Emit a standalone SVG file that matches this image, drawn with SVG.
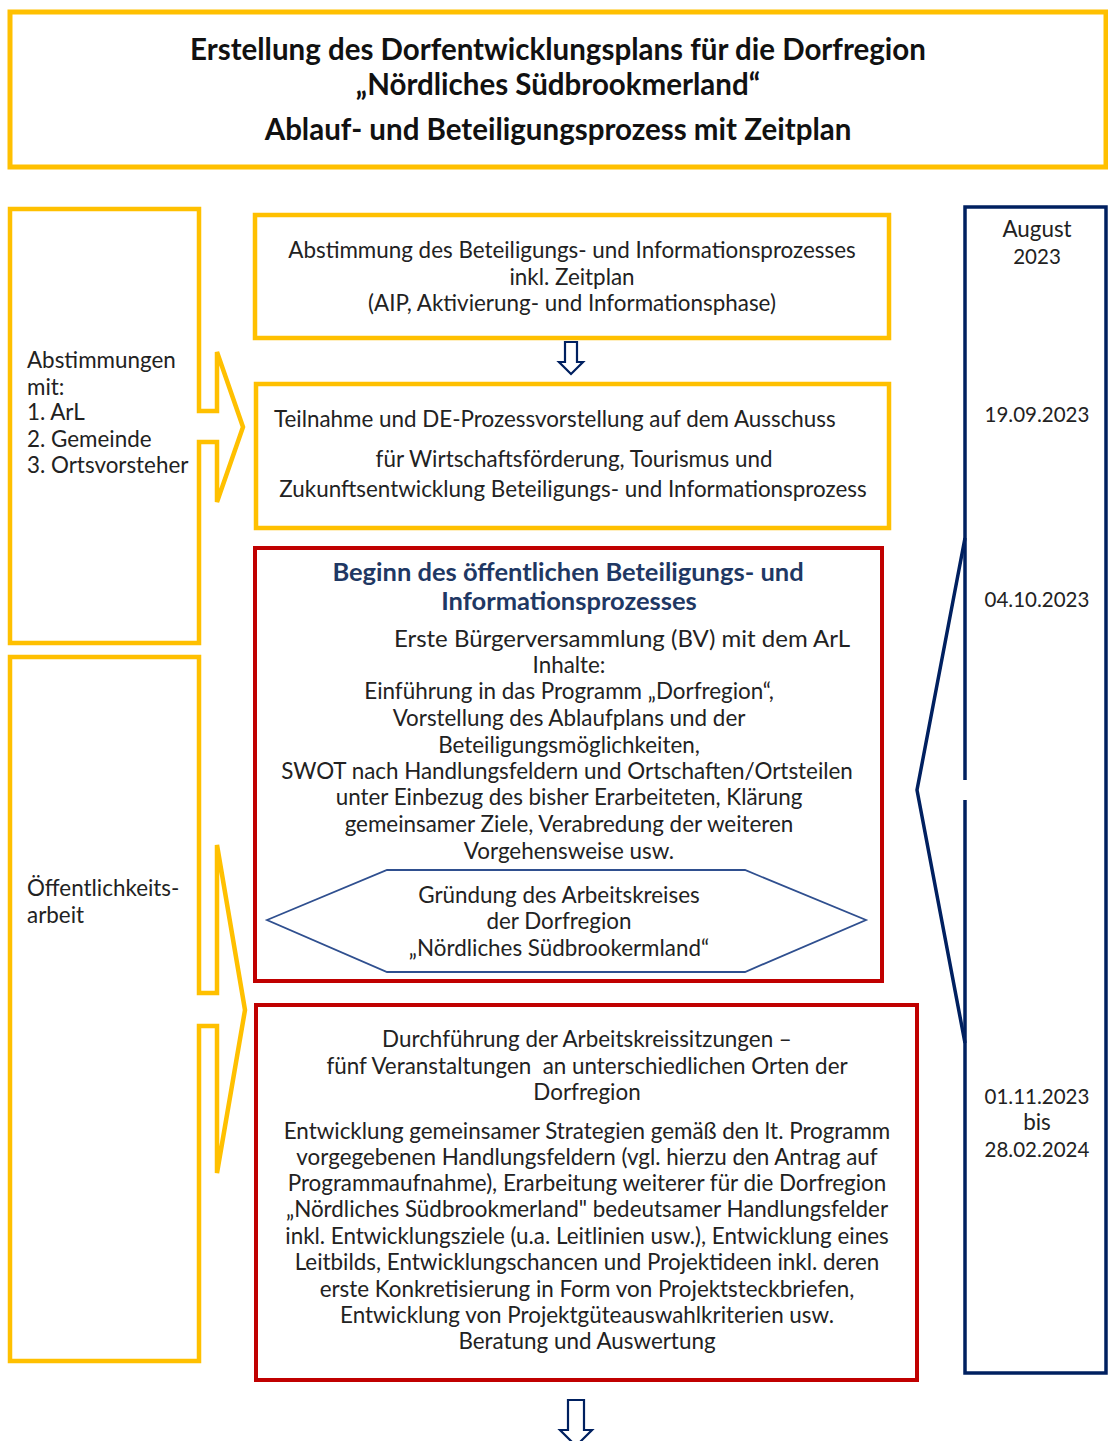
<svg xmlns="http://www.w3.org/2000/svg" width="1108" height="1441" viewBox="0 0 1108 1441">
<style>
.y{fill:none;stroke:#FFC000;stroke-width:4.5}
.r{fill:none;stroke:#C00000;stroke-width:4}
.n{fill:none;stroke:#002060;stroke-width:3.5}
.t{font-family:Lato,"Open Sans","Noto Sans",sans-serif;font-size:22.4px;fill:#222}
.d{font-size:20.5px}
.c{text-anchor:middle}
.h{font-family:Lato,"Noto Sans",sans-serif;font-weight:bold;font-size:29.5px;fill:#111;text-anchor:middle}
.b{font-family:Lato,"Noto Sans",sans-serif;font-weight:bold;font-size:25.5px;fill:#1F3864;text-anchor:middle}
</style>
<rect width="1108" height="1441" fill="#fff"/>
<g id="title">
<rect class="y" x="10" y="12" width="1096" height="155" style="stroke-width:5"/>
<text class="h" x="558" y="60">Erstellung des Dorfentwicklungsplans für die Dorfregion</text>
<text class="h" x="558" y="95">„Nördliches Südbrookmerland“</text>
<text class="h" x="558" y="140">Ablauf- und Beteiligungsprozess mit Zeitplan</text>
</g>
<g id="abstimmungen">
<path class="y" d="M10,209 H199 V411 H217 V352 L243,427 L217,502 V442 H199 V643 H10 Z"/>
<text class="t" x="27" y="368">Abstimmungen</text>
<text class="t" x="27" y="395">mit:</text>
<text class="t" x="27" y="420">1. ArL</text>
<text class="t" x="27" y="447">2. Gemeinde</text>
<text class="t" x="27" y="473">3. Ortsvorsteher</text>
</g>
<g id="oeffentlichkeit">
<path class="y" d="M10,657 H199 V993 H217 V845 L245,1010 L217,1173 V1026 H199 V1361 H10 Z"/>
<text class="t" x="27" y="896">Öffentlichkeits-</text>
<text class="t" x="27" y="923">arbeit</text>
</g>
<g id="zeitplan">
<path class="n" d="M965,780 V207 H1106 V1373 H965 V800"/>
<path class="n" d="M965,538 L917,790 L965,1043"/>
<text class="t c" x="1037" y="237">August</text>
<text class="t c d" x="1037" y="264">2023</text>
<text class="t c d" x="1037" y="422">19.09.2023</text>
<text class="t c d" x="1037" y="607">04.10.2023</text>
<text class="t c d" x="1037" y="1104">01.11.2023</text>
<text class="t c" x="1037" y="1130">bis</text>
<text class="t c d" x="1037" y="1157">28.02.2024</text>
</g>
<g id="abstimmung">
<rect class="y" x="255" y="215" width="634" height="123"/>
<text class="t c" x="572" y="258">Abstimmung des Beteiligungs- und Informationsprozesses</text>
<text class="t c" x="572" y="285">inkl. Zeitplan</text>
<text class="t c" x="572" y="311">(AIP, Aktivierung- und Informationsphase)</text>
</g>
<g id="teilnahme">
<rect class="y" x="256" y="384" width="633" height="144"/>
<text class="t" x="274" y="427">Teilnahme und DE-Prozessvorstellung auf dem Ausschuss</text>
<text class="t c" x="574" y="467">für Wirtschaftsförderung, Tourismus und</text>
<text class="t c" x="573" y="497">Zukunftsentwicklung Beteiligungs- und Informationsprozess</text>
</g>
<g id="beginn">
<rect class="r" x="255" y="548" width="627" height="433"/>
<text class="b" x="568" y="581">Beginn des öffentlichen Beteiligungs- und</text>
<text class="b" x="569" y="610">Informationsprozesses</text>
<text class="t" x="394" y="647" style="font-size:24px">Erste Bürgerversammlung (BV) mit dem ArL</text>
<text class="t c" x="569" y="673">Inhalte:</text>
<text class="t c" x="569" y="699">Einführung in das Programm „Dorfregion“,</text>
<text class="t c" x="569" y="726">Vorstellung des Ablaufplans und der</text>
<text class="t c" x="569" y="753">Beteiligungsmöglichkeiten,</text>
<text class="t c" x="567" y="779">SWOT nach Handlungsfeldern und Ortschaften/Ortsteilen</text>
<text class="t c" x="569" y="805">unter Einbezug des bisher Erarbeiteten, Klärung</text>
<text class="t c" x="569" y="832">gemeinsamer Ziele, Verabredung der weiteren</text>
<text class="t c" x="569" y="859">Vorgehensweise usw.</text>
</g>
<g id="gruendung">
<polygon points="267,920 387,870 745,870 866,920 745,972 387,972" fill="none" stroke="#2F4F8F" stroke-width="1.8"/>
<text class="t c" x="559" y="903">Gründung des Arbeitskreises</text>
<text class="t c" x="559" y="929">der Dorfregion</text>
<text class="t c" x="559" y="956">„Nördliches Südbrookermland“</text>
</g>
<g id="durchfuehrung">
<rect class="r" x="256" y="1005" width="661" height="375"/>
<text class="t c" x="587" y="1047">Durchführung der Arbeitskreissitzungen –</text>
<text class="t c" x="587" y="1074" xml:space="preserve">fünf Veranstaltungen  an unterschiedlichen Orten der</text>
<text class="t c" x="587" y="1100">Dorfregion</text>
<text class="t c" x="587" y="1139">Entwicklung gemeinsamer Strategien gemäß den lt. Programm</text>
<text class="t c" x="587" y="1165">vorgegebenen Handlungsfeldern (vgl. hierzu den Antrag auf</text>
<text class="t c" x="587" y="1191">Programmaufnahme), Erarbeitung weiterer für die Dorfregion</text>
<text class="t c" x="587" y="1217">„Nördliches Südbrookmerland" bedeutsamer Handlungsfelder</text>
<text class="t c" x="587" y="1244">inkl. Entwicklungsziele (u.a. Leitlinien usw.), Entwicklung eines</text>
<text class="t c" x="587" y="1270">Leitbilds, Entwicklungschancen und Projektideen inkl. deren</text>
<text class="t c" x="587" y="1297">erste Konkretisierung in Form von Projektsteckbriefen,</text>
<text class="t c" x="587" y="1323">Entwicklung von Projektgüteauswahlkriterien usw.</text>
<text class="t c" x="587" y="1349">Beratung und Auswertung</text>
</g>
<g id="connectors" fill="#fff" stroke="#002060" stroke-width="2.2" stroke-linejoin="miter">
<path d="M565,342 H577 V362 H583 L571,374 L559,362 H565 Z"/>
<path d="M568,1400 H584 V1430 H592 L576,1446 L560,1430 H568 Z"/>
</g>
</svg>
